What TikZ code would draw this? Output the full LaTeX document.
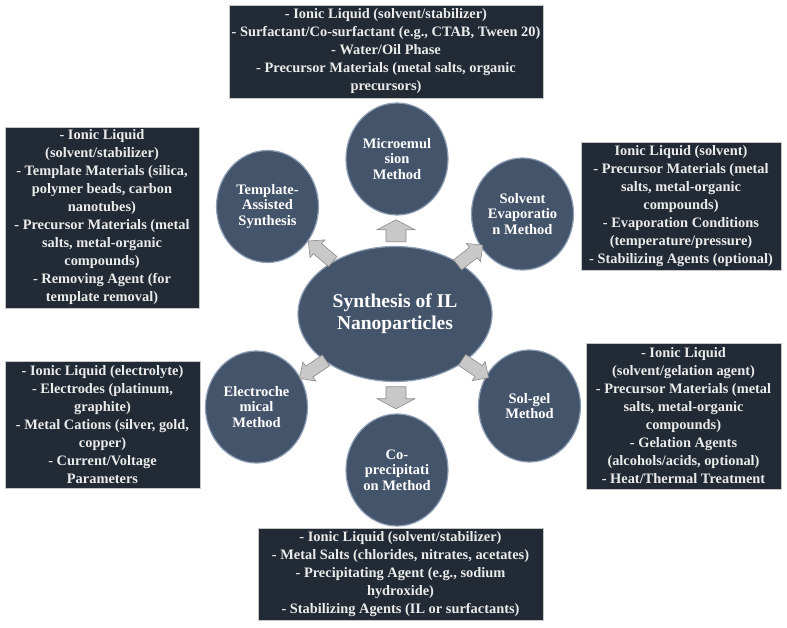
\documentclass[tikz,border=0pt]{standalone}
\usepackage{fontspec}
\setmainfont{Liberation Serif}
\usetikzlibrary{shapes.geometric,calc}
\definecolor{slate}{HTML}{44546A}
\definecolor{slaterim}{HTML}{8C9DB5}
\definecolor{navy}{HTML}{222A35}
\definecolor{spokefill}{HTML}{C8C8C8}
\definecolor{spokeline}{HTML}{8A8A8A}
\definecolor{paper}{HTML}{EBEBEB}
\tikzset{
  listbox/.style={rectangle, fill=navy, draw=gray!45, line width=.6pt, text=paper, align=center, inner sep=0pt,
    font=\bfseries\fontsize{14.4}{18}\selectfont},
  method/.style={ellipse, fill=slate, draw=slaterim, line width=1.2pt, minimum width=102pt, minimum height=112pt,
    text=white, align=center, inner sep=0pt, font=\bfseries\fontsize{14.5}{15.5}\selectfont},
  hub/.style={ellipse, fill=slate, draw=slaterim, line width=1.2pt, minimum width=194pt, minimum height=135pt,
    text=white, align=center, inner sep=0pt, font=\bfseries\fontsize{19.5}{22}\selectfont},
  spokestyle/.style={fill=spokefill, draw=spokeline, line width=.6pt, line join=miter},
  spoke/.pic={\draw[spokestyle] (-11,-10) -- (1,-10) -- (1,-19) -- (11,0) -- (1,19) -- (1,10) -- (-11,10) -- cycle;},
  slantspoke/.pic={\draw[spokestyle] (-16,-6.5) -- (4,-6.5) -- (4,-11.5) -- (16,0) -- (4,11.5) -- (4,6.5) -- (-16,6.5) -- cycle;}
}
\begin{document}
\begin{tikzpicture}[x=1pt, y=-1pt]
\useasboundingbox[fill=white] (0,0) rectangle (787,628);
% central topic and methods
\node[hub] (hub) at (395,314) {Synthesis of IL\\Nanoparticles};
\node[method] (micro) at (397,159) {Microemul\\sion\\Method};
\node[method] (templ) at (267.5,206.5) {Template-\\Assisted\\Synthesis};
\node[method] (solvent) at (522.5,214) {Solvent\\Evaporatio\\n Method};
\node[method] (electro) at (256.5,407) {Electroche\\mical\\Method};
\node[method] (solgel) at (529.5,406) {Sol-gel\\Method};
\node[method] (coprec) at (397,470) {Co-\\precipitati\\on Method};
% arrows from the hub
\pic[rotate=90] at ($(hub.90)!.5!(micro.270)$) {spoke};
\pic[rotate=270] at ($(hub.270)!.5!(coprec.90)$) {spoke};
\pic[rotate=140] at ($(hub.140)!.5!(templ.320)$) {slantspoke};
\pic[rotate=38] at ($(hub.38)!.5!(solvent.218)$) {slantspoke};
\pic[rotate=214] at ($(hub.214)!.5!(electro.34)$) {slantspoke};
\pic[rotate=326] at ($(hub.326)!.5!(solgel.146)$) {slantspoke};
% ingredient lists
\node[listbox, minimum width=314pt, minimum height=93pt] (microList) at (386,51.5)
  {- Ionic Liquid (solvent/stabilizer)\\- Surfactant/Co-surfactant (e.g., CTAB, Tween 20)\\- Water/Oil Phase\\- Precursor Materials (metal salts, organic\\precursors)};
\node[listbox, minimum width=194pt, minimum height=181pt] (templList) at (102,217.5)
  {- Ionic Liquid\\(solvent/stabilizer)\\- Template Materials (silica,\\polymer beads, carbon\\nanotubes)\\- Precursor Materials (metal\\salts, metal-organic\\compounds)\\- Removing Agent (for\\template removal)};
\node[listbox, minimum width=200pt, minimum height=128pt] (solventList) at (681,206)
  {Ionic Liquid (solvent)\\- Precursor Materials (metal\\salts, metal-organic\\compounds)\\- Evaporation Conditions\\(temperature/pressure)\\- Stabilizing Agents (optional)};
\node[listbox, minimum width=195pt, minimum height=127pt] (electroList) at (102.5,424.5)
  {- Ionic Liquid (electrolyte)\\- Electrodes (platinum,\\graphite)\\- Metal Cations (silver, gold,\\copper)\\- Current/Voltage\\Parameters};
\node[listbox, minimum width=195pt, minimum height=146pt] (solgelList) at (683.5,416)
  {- Ionic Liquid\\(solvent/gelation agent)\\- Precursor Materials (metal\\salts, metal-organic\\compounds)\\- Gelation Agents\\(alcohols/acids, optional)\\- Heat/Thermal Treatment};
\node[listbox, minimum width=285pt, minimum height=92pt] (coprecList) at (400.5,574)
  {- Ionic Liquid (solvent/stabilizer)\\- Metal Salts (chlorides, nitrates, acetates)\\- Precipitating Agent (e.g., sodium\\hydroxide)\\- Stabilizing Agents (IL or surfactants)};
\end{tikzpicture}
\end{document}
